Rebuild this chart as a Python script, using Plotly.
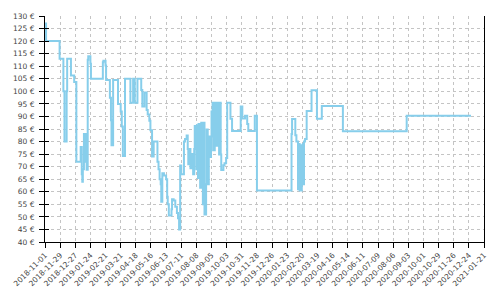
import plotly.graph_objects as go
import pandas as pd

dates = [
    "2018-11-01", "2018-11-03", "2018-11-28", "2018-12-05", "2018-12-07", "2018-12-11",
    "2018-12-12", "2018-12-19", "2018-12-25", "2018-12-29", "2019-01-06", "2019-01-08",
    "2019-01-09", "2019-01-10", "2019-01-12", "2019-01-14", "2019-01-15", "2019-01-17",
    "2019-01-19", "2019-01-20", "2019-01-24", "2019-01-25", "2019-02-16", "2019-02-17",
    "2019-02-21", "2019-02-22", "2019-03-01", "2019-03-03", "2019-03-04", "2019-03-07",
    "2019-03-16", "2019-03-21", "2019-03-23", "2019-03-25", "2019-03-29", "2019-04-08",
    "2019-04-13", "2019-04-16", "2019-04-21", "2019-04-28", "2019-04-30", "2019-05-04",
    "2019-05-08", "2019-05-10", "2019-05-13", "2019-05-15", "2019-05-18", "2019-05-21",
    "2019-05-28", "2019-05-30", "2019-06-01", "2019-06-03", "2019-06-04", "2019-06-06",
    "2019-06-09", "2019-06-13", "2019-06-15", "2019-06-16", "2019-06-18", "2019-06-23",
    "2019-06-24", "2019-06-27", "2019-06-30", "2019-07-03", "2019-07-05", "2019-07-07",
    "2019-07-09", "2019-07-11", "2019-07-16", "2019-07-18", "2019-07-21", "2019-07-23",
    "2019-07-24", "2019-07-27", "2019-07-28", "2019-07-31", "2019-08-02", "2019-08-04",
    "2019-08-05", "2019-08-08", "2019-08-09", "2019-08-11", "2019-08-12", "2019-08-15",
    "2019-08-17", "2019-08-20", "2019-08-21", "2019-08-23", "2019-08-26", "2019-08-27",
    "2019-08-29", "2019-08-31", "2019-09-02", "2019-09-04", "2019-09-05", "2019-09-07",
    "2019-09-08", "2019-09-11", "2019-09-14", "2019-09-16", "2019-09-19", "2019-09-20",
    "2019-09-22", "2019-09-23", "2019-09-27", "2019-09-29", "2019-10-02", "2019-10-04",
    "2019-10-10", "2019-10-13", "2019-10-29", "2019-11-01", "2019-11-06", "2019-11-10",
    "2019-11-12", "2019-11-24", "2019-11-28", "2020-01-31", "2020-02-01", "2020-02-07",
    "2020-02-09", "2020-02-12", "2020-02-13", "2020-02-15", "2020-02-16", "2020-02-17",
    "2020-02-19", "2020-02-20", "2020-02-21", "2020-02-22", "2020-02-23", "2020-02-25",
    "2020-02-28", "2020-03-08", "2020-03-18", "2020-03-27", "2020-05-05", "2020-08-31",
    "2020-12-28",
]

prices = [
    127, 120, 113, 100, 80, 100,
    113, 106.3, 103.7, 72, 77.8, 67,
    64, 69, 83, 72, 83, 68.8,
    112.6, 114, 111, 105, 111.6, 112.2,
    110.3, 104.5, 97.4, 88.5, 78.5, 104.5,
    95, 92, 86, 74.2, 105, 95.5,
    105, 95.5, 105, 100.5, 94, 99.5,
    92.6, 90.8, 88.3, 84.5, 74, 80,
    72, 69, 65, 63, 56, 67.4,
    66.5, 65, 58, 55, 50.6, 53,
    57, 56.5, 54, 51.5, 49.5, 45,
    70.5, 67, 80, 81, 82.4, 77,
    71, 77, 69.4, 75, 67, 77,
    86.2, 69, 86.5, 65.5, 87, 61.6,
    87.5, 55, 87.5, 51, 63, 84.8,
    63, 82, 73.8, 82, 92, 95.5,
    76.5, 95.5, 78.3, 95.5, 74.8, 95.5,
    74.8, 68.7, 70.6, 71.4, 73.5, 95.5,
    89.1, 84.2, 94, 89.2, 90.3, 87,
    84.2, 90.3, 60.5, 83, 89, 82.5,
    80, 61, 79, 60.5, 78.5, 60.5,
    78.5, 63, 79, 63, 80, 81,
    92.2, 100.4, 89.1, 94.2, 84.1, 90.3,
    90.3,
]

x_start = "2018-11-01"
x_end = "2021-01-21"
tick_step_days = 28
y_min, y_max, y_step = 40, 130, 5
currency_suffix = " €"

x_ticks = pd.date_range(x_start, x_end, freq=f"{tick_step_days}D")

font = dict(family="DejaVu Sans", size=7.5, color="#444444")
grid_color = "#c4c4c4"

fig = go.Figure()
fig.add_trace(go.Scatter(
    x=pd.to_datetime(dates), y=prices, mode="lines",
    line=dict(shape="hv", color="#87CEEB", width=2),
    showlegend=False, hoverinfo="x+y",
))
# helper trace for inner half of crossing y ticks
fig.add_trace(go.Scatter(x=[None], y=[None], yaxis="y2", showlegend=False, hoverinfo="skip"))

fig.update_layout(
    width=500, height=300,
    margin=dict(l=36, r=14, t=15, b=53),
    paper_bgcolor="white", plot_bgcolor="white",
    font=font,
    xaxis=dict(
        range=[x_start, x_end],
        tickmode="array", tickvals=x_ticks, ticktext=[d.strftime("%Y-%m-%d") for d in x_ticks],
        tickangle=-45, ticks="outside", ticklen=5, tickcolor="black",
        showline=True, linecolor="black", linewidth=1,
        showgrid=True, gridcolor=grid_color, griddash="3px,3px", gridwidth=1,
        zeroline=False, tickfont=font,
    ),
    yaxis=dict(
        range=[y_min, y_max], tick0=y_min, dtick=y_step,
        ticksuffix=currency_suffix,
        ticks="outside", ticklen=5, tickcolor="black", ticklabelstandoff=3,
        showline=True, mirror=True, linecolor="black", linewidth=1,
        showgrid=True, gridcolor=grid_color, griddash="3px,3px", gridwidth=1,
        zeroline=False, tickfont=font,
    ),
    yaxis2=dict(
        range=[y_min, y_max], tick0=y_min, dtick=y_step,
        overlaying="y", side="left", anchor="x",
        ticks="inside", ticklen=4, tickcolor="black",
        showticklabels=False, showgrid=False, showline=False, zeroline=False,
    ),
)

fig.write_html("out.html")
